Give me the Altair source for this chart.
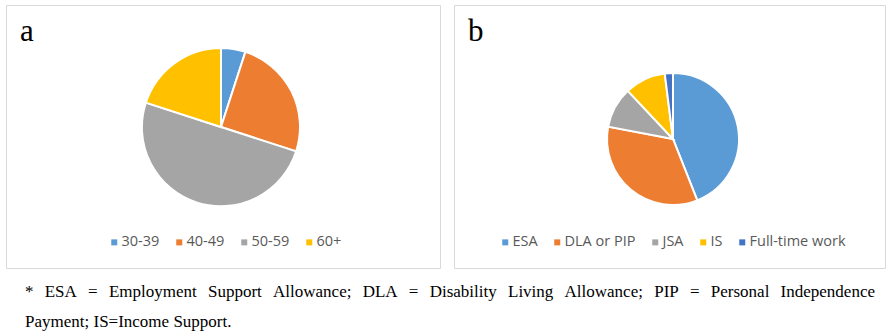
import altair as alt
import pandas as pd

# ---- data ----
age_groups = ["30-39", "40-49", "50-59", "60+"]
age_share = [5, 25, 50, 20]
age_colors = ["#5B9BD5", "#ED7D31", "#A5A5A5", "#FFC000"]

benefit_types = ["ESA", "DLA or PIP", "JSA", "IS", "Full-time work"]
benefit_share = [44, 34, 10, 10, 2]
benefit_colors = ["#5B9BD5", "#ED7D31", "#A5A5A5", "#FFC000", "#4472C4"]

panel_labels = ["a", "b"]
footnote_line1 = "* ESA = Employment Support Allowance; DLA = Disability Living Allowance; PIP = Personal Independence"
footnote_line2 = "Payment; IS=Income Support."

# ---- layout (pixels) ----
W, H = 887, 335
FOOT_SIZE = 17
FOOT_LEFT, FOOT_RIGHT = 25, 875

# Times (Liberation Serif) advance widths per 1000 em, for justifying line 1
TIMES = {" ": 250, "*": 500, "=": 564, ";": 278, ".": 250,
         "A": 722, "D": 722, "E": 611, "I": 333, "L": 611, "P": 556, "S": 556,
         "a": 444, "b": 500, "c": 444, "d": 500, "e": 444, "g": 500, "i": 278,
         "l": 278, "m": 778, "n": 500, "o": 500, "p": 500, "r": 333, "s": 389,
         "t": 278, "u": 500, "v": 500, "w": 722, "y": 500}


def word_width(w):
    return sum(TIMES.get(c, 500) for c in w) * FOOT_SIZE / 1000.0


words = footnote_line1.split(" ")
widths = [word_width(w) for w in words]
gap = (FOOT_RIGHT - FOOT_LEFT - sum(widths)) / (len(words) - 1)
xs = []
x = FOOT_LEFT
for w in widths:
    xs.append(x)
    x += w + gap
foot_df = pd.DataFrame({"word": words + [footnote_line2],
                        "x": xs + [FOOT_LEFT],
                        "y": [297] * len(words) + [327]})

df_a = pd.DataFrame({"group": age_groups, "share": age_share,
                     "idx": list(range(len(age_groups)))})
df_b = pd.DataFrame({"group": benefit_types, "share": benefit_share,
                     "idx": list(range(len(benefit_types)))})

one = pd.DataFrame({"k": [0]})


def legend(x0, y0):
    return alt.Legend(title=None, orient="none", legendX=x0, legendY=y0,
                      direction="horizontal", symbolType="square",
                      symbolSize=36, symbolStrokeWidth=0,
                      labelFont="Open Sans", labelFontSize=14.5,
                      labelColor="#595959", columnPadding=12,
                      labelOffset=0, padding=0)


border_a = alt.Chart(one).mark_rect(fill="white", stroke="#D9D9D9", strokeWidth=1).encode(
    x=alt.value(6.5), x2=alt.value(440.5), y=alt.value(5.5), y2=alt.value(268.5))
border_b = alt.Chart(one).mark_rect(fill="white", stroke="#D9D9D9", strokeWidth=1).encode(
    x=alt.value(454.5), x2=alt.value(885.5), y=alt.value(5.5), y2=alt.value(268.5))

pie_a = alt.Chart(df_a).mark_arc(radius=79, stroke="white", strokeWidth=2).encode(
    theta=alt.Theta("share:Q", stack=True),
    color=alt.Color("group:N", scale=alt.Scale(domain=age_groups, range=age_colors),
                    legend=legend(107, 235)),
    order=alt.Order("idx:Q"),
    x=alt.value(221), y=alt.value(127))

pie_b = alt.Chart(df_b).mark_arc(radius=66, stroke="white", strokeWidth=2).encode(
    theta=alt.Theta("share:Q", stack=True),
    color=alt.Color("group:N", scale=alt.Scale(domain=benefit_types, range=benefit_colors),
                    legend=legend(498, 235)),
    order=alt.Order("idx:Q"),
    x=alt.value(673), y=alt.value(139))

labels_df = pd.DataFrame({"label": panel_labels, "x": [20, 468], "y": [40.5, 40.5]})
labels = alt.Chart(labels_df).mark_text(
    align="left", baseline="alphabetic", font="Liberation Serif", fontSize=31, color="black"
).encode(x=alt.X("x:Q", scale=None, axis=None), y=alt.Y("y:Q", scale=None, axis=None),
         text="label:N")

foot = alt.Chart(foot_df).mark_text(
    align="left", baseline="alphabetic", font="Liberation Serif", fontSize=FOOT_SIZE, color="black"
).encode(x=alt.X("x:Q", scale=None, axis=None), y=alt.Y("y:Q", scale=None, axis=None),
         text="word:N")

chart = alt.layer(border_a, border_b, pie_a, pie_b, labels, foot).resolve_scale(
    color="independent", theta="independent"
).properties(width=W, height=H, padding=0, autosize="none",
             background="white").configure_view(stroke=None)

chart.save("out.html", embed_options={"renderer": "svg", "actions": False})
